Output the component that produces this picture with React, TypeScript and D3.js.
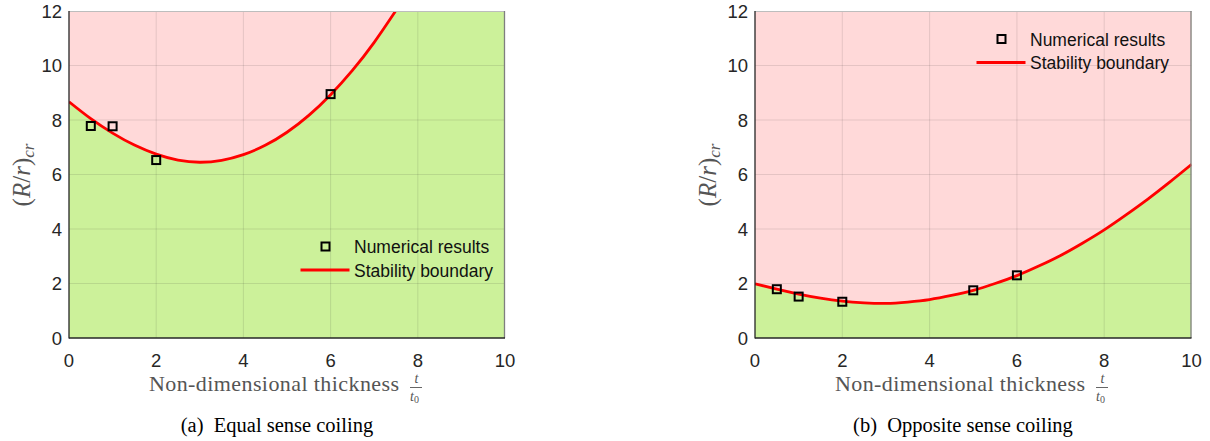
import React from "react";
import * as d3 from "d3";

// Stability boundary curves (t/t0 vs critical R/r)
const thicknessGrid = [0, 0.5, 1, 1.5, 2, 2.5, 3, 3.5, 4, 4.5, 5, 5.5, 6, 6.5, 7, 7.5, 8, 8.5, 9, 9.5, 10];

const equalBoundary = [8.67, 8.05, 7.52, 7.08, 6.75, 6.53, 6.45, 6.52, 6.73, 7.07, 7.55, 8.17, 8.93, 9.82, 10.85, 12.02];
const oppositeBoundary = [1.99, 1.79, 1.61, 1.46, 1.35, 1.29, 1.27, 1.32, 1.41, 1.56, 1.75, 2.0, 2.29, 2.64, 3.03, 3.48, 3.97, 4.52, 5.1, 5.72, 6.37];

// Numerical results
const equalPointsX = [0.5, 1, 2, 6];
const equalPointsY = [7.78, 7.77, 6.53, 8.95];
const oppositePointsX = [0.5, 1, 2, 5, 6];
const oppositePointsY = [1.79, 1.52, 1.33, 1.75, 2.3];

const xTicks = [0, 2, 4, 6, 8, 10];
const yTicks = [0, 2, 4, 6, 8, 10, 12];

const legendLabels = ["Numerical results", "Stability boundary"];
const captions = ["(a)", "Equal sense coiling", "(b)", "Opposite sense coiling"];

const PINK = "#ffd9d9";
const GREEN = "#ccf19a";
const AXIS = "#262626";
const TICK_FONT = "'Liberation Sans', Arial, sans-serif";
const SERIF = "'Liberation Serif', 'Times New Roman', serif";

type PanelProps = {
  id: string;
  left: number;
  right: number;
  boundary: number[];
  px: number[];
  py: number[];
  legendX: number;
  legendY: number;
  caption: [string, string];
  captionX: number;
};

function Panel({ id, left, right, boundary, px, py, legendX, legendY, caption, captionX }: PanelProps) {
  const top = 11;
  const bottom = 338;
  const x = d3.scaleLinear().domain([0, 10]).range([left, right]);
  const y = d3.scaleLinear().domain([0, 12]).range([bottom, top]);

  const pts: [number, number][] = boundary.map((v, i) => [thicknessGrid[i], v]);

  const line = d3
    .line<[number, number]>()
    .x((d) => x(d[0]))
    .y((d) => y(d[1]))
    .curve(d3.curveNatural);

  const area = d3
    .area<[number, number]>()
    .x((d) => x(d[0]))
    .y0(y(12))
    .y1((d) => y(d[1]))
    .curve(d3.curveNatural);

  const clipId = `clip-${id}`;
  const labelX = left - 39;
  const labelCy = 175;
  const m = 8;

  return (
    <g>
      <defs>
        <clipPath id={clipId}>
          <rect x={left} y={top} width={right - left} height={bottom - top} />
        </clipPath>
      </defs>
      <g clipPath={`url(#${clipId})`}>
        <rect x={left} y={top} width={right - left} height={bottom - top} fill={GREEN} />
        <path d={area(pts) ?? ""} fill={PINK} />
        {xTicks.slice(1, -1).map((t) => (
          <line key={`gx${t}`} x1={x(t)} x2={x(t)} y1={top} y2={bottom} stroke={AXIS} strokeOpacity={0.12} />
        ))}
        {yTicks.slice(1, -1).map((t) => (
          <line key={`gy${t}`} x1={left} x2={right} y1={y(t)} y2={y(t)} stroke={AXIS} strokeOpacity={0.12} />
        ))}
        <path d={line(pts) ?? ""} fill="none" stroke="#ff0000" strokeWidth={2.8} />
      </g>
      {px.map((v, i) => (
        <rect
          key={`m${i}`}
          x={x(v) - m / 2}
          y={y(py[i]) - m / 2}
          width={m}
          height={m}
          fill="none"
          stroke="#000"
          strokeWidth={2}
        />
      ))}
      {/* frame */}
      <line x1={left} x2={right} y1={top + 0.5} y2={top + 0.5} stroke="#bdbdbd" strokeWidth={1} />
      <line x1={right - 0.5} x2={right - 0.5} y1={top} y2={bottom} stroke="#7f7f7f" strokeWidth={1.3} />
      <line x1={left} x2={left} y1={top} y2={bottom + 0.5} stroke={AXIS} strokeWidth={1.3} />
      <line x1={left} x2={right} y1={bottom} y2={bottom} stroke={AXIS} strokeWidth={1.3} />

      {xTicks.map((t) => (
        <text key={`xt${t}`} x={x(t)} y={366.5} textAnchor="middle" fontFamily={TICK_FONT} fontSize={18.5} fill={AXIS}>
          {t}
        </text>
      ))}
      {yTicks.map((t) => (
        <text key={`yt${t}`} x={left - 7} y={y(t) + 6.8} textAnchor="end" fontFamily={TICK_FONT} fontSize={18.5} fill={AXIS}>
          {t}
        </text>
      ))}

      {/* legend */}
      <rect x={legendX - m / 2} y={legendY - m / 2} width={m} height={m} fill="none" stroke="#000" strokeWidth={2} />
      <text x={legendX + 28.5} y={legendY + 6.8} fontFamily={TICK_FONT} fontSize={17.5} fill="#111">
        {legendLabels[0]}
      </text>
      <line x1={legendX - 25} x2={legendX + 24} y1={legendY + 23.5} y2={legendY + 23.5} stroke="#ff0000" strokeWidth={3} />
      <text x={legendX + 28.5} y={legendY + 30} fontFamily={TICK_FONT} fontSize={17.5} fill="#111">
        {legendLabels[1]}
      </text>

      {/* y-axis label */}
      <text
        transform={`translate(${labelX},${labelCy}) rotate(-90)`}
        textAnchor="middle"
        fontFamily={SERIF}
        fontSize={25}
        fill="#555"
      >
        <tspan>(</tspan>
        <tspan fontStyle="italic">R</tspan>
        <tspan>/</tspan>
        <tspan fontStyle="italic">r</tspan>
        <tspan>)</tspan>
        <tspan fontStyle="italic" fontSize={17} dy={4}>cr</tspan>
      </text>

      {/* x-axis label */}
      <text x={left + 80} y={390.5} fontFamily={SERIF} fontSize={22} fill="#555" textLength={250} lengthAdjust="spacing">
        Non-dimensional thickness
      </text>
      <text x={left + 347.5} y={383} textAnchor="middle" fontFamily={SERIF} fontStyle="italic" fontSize={14} fill="#555">
        t
      </text>
      <line x1={left + 341} x2={left + 353} y1={387.5} y2={387.5} stroke="#555" strokeWidth={0.9} />
      <text x={left + 345.5} y={401} textAnchor="middle" fontFamily={SERIF} fontStyle="italic" fontSize={14} fill="#555">
        t
        <tspan fontStyle="normal" fontSize={10} dy={1.5}>0</tspan>
      </text>

      {/* caption */}
      <text x={captionX} y={432} textAnchor="middle" fontFamily={SERIF} fontSize={20.5} fill="#000" style={{ whiteSpace: "pre" }}>
        {caption[0] + "  " + caption[1]}
      </text>
    </g>
  );
}

export default function App() {
  return (
    <svg
      width={1210}
      height={441}
      viewBox="0 0 1210 441"
      style={{ position: "absolute", left: 0, top: 0, background: "#fff" }}
    >
      <rect width={1210} height={441} fill="#fff" />
      <Panel
        id="a"
        left={69}
        right={505}
        boundary={equalBoundary}
        px={equalPointsX}
        py={equalPointsY}
        legendX={325.5}
        legendY={246.5}
        caption={[captions[0], captions[1]]}
        captionX={277}
      />
      <Panel
        id="b"
        left={755}
        right={1191.5}
        boundary={oppositeBoundary}
        px={oppositePointsX}
        py={oppositePointsY}
        legendX={1001.5}
        legendY={39}
        caption={[captions[2], captions[3]]}
        captionX={963}
      />
    </svg>
  );
}
